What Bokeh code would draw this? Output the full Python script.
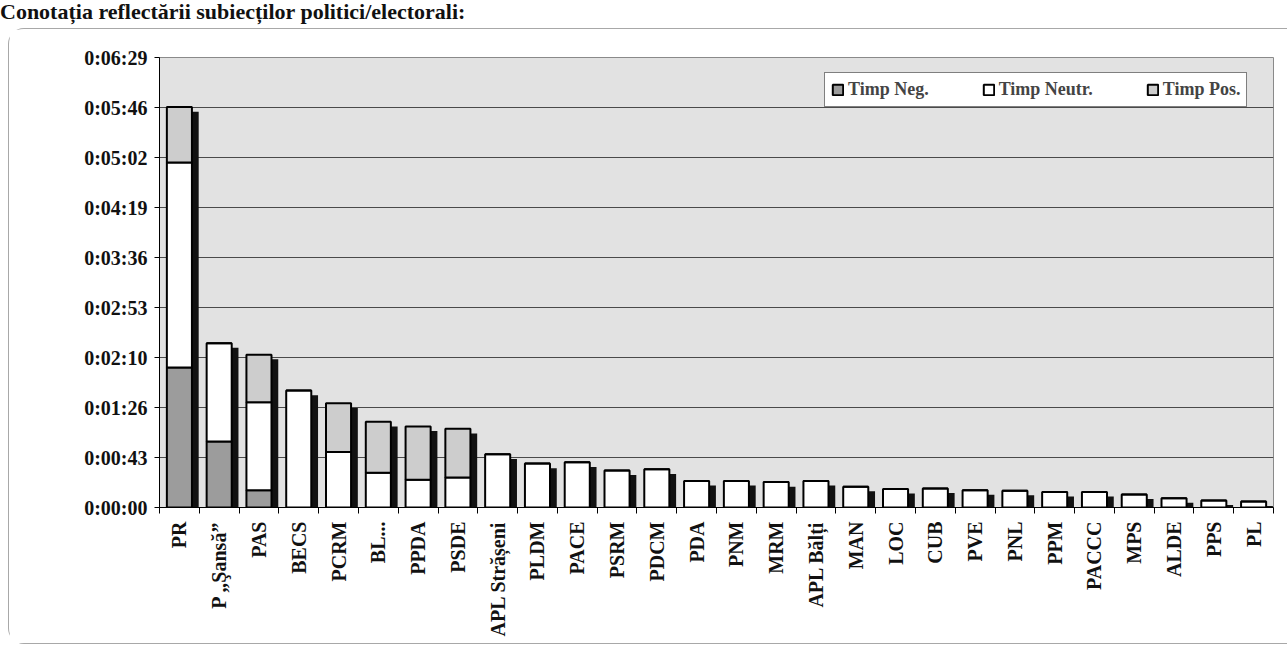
import math
from bokeh.plotting import figure
from bokeh.layouts import column
from bokeh.models import (Range1d, FixedTicker, Legend, LegendItem,
                          ColumnDataSource, Div, LinearAxis)
from bokeh.embed import file_html
from bokeh.resources import INLINE

title_text = "Conotația reflectării subiecților politici/electorali:"

categories = ["PR", "P „Şansă”", "PAS", "BECS", "PCRM", "BL...", "PPDA", "PSDE",
              "APL Strășeni", "PLDM", "PACE", "PSRM", "PDCM", "PDA", "PNM", "MRM",
              "APL Bălți", "MAN", "LOC", "CUB", "PVE", "PNL", "PPM", "PACCC",
              "MPS", "ALDE", "PPS", "PL"]

# seconds
timp_neg = [121, 57, 15, 0, 0, 0, 0, 0,
            0, 0, 0, 0, 0, 0, 0, 0,
            0, 0, 0, 0, 0, 0, 0, 0,
            0, 0, 0, 0]
timp_neutr = [177, 85, 76, 101, 48, 30, 24, 26,
              46, 38, 39, 32, 33, 23, 23, 22,
              23, 18, 16, 16.5, 15, 14.5, 13.5, 13.5,
              11.3, 8, 6.1, 5.2]
timp_pos = [48, 0, 41, 0, 42, 44, 46, 42,
            0, 0, 0, 0, 0, 0, 0, 0,
            0, 0, 0, 0, 0, 0, 0, 0,
            0, 0, 0, 0]

series_names = ["Timp Neg.", "Timp Neutr.", "Timp Pos."]
series_colors = ["#9c9c9c", "#ffffff", "#cdcdcd"]

y_tick_step = 43.2
y_tick_labels = ["0:00:00", "0:00:43", "0:01:26", "0:02:10", "0:02:53",
                 "0:03:36", "0:04:19", "0:05:02", "0:05:46", "0:06:29"]
y_ticks = [i * y_tick_step for i in range(len(y_tick_labels))]

n_cat = len(categories)
centers = [i + 0.5 for i in range(n_cat)]
boundaries = list(range(n_cat + 1))
totals = [a + b + c for a, b, c in zip(timp_neg, timp_neutr, timp_pos)]
shadow_dx = 0.17
shadow_drop = 4.0
shadow_top = [max(t - shadow_drop, 0) for t in totals]

source = ColumnDataSource(dict(x=centers, xs=[c + shadow_dx for c in centers],
                               cat=categories, neg=timp_neg, neutr=timp_neutr,
                               pos=timp_pos, shadow_top=shadow_top))

FONT = "Liberation Serif"

p = figure(width=1279, height=616, x_range=Range1d(0, n_cat),
           y_range=Range1d(0, y_ticks[-1]), output_backend="svg",
           toolbar_location=None, tools="", x_axis_location=None)
p.min_border_left = 150
p.min_border_right = 15
p.min_border_top = 28
p.min_border_bottom = 138
p.background_fill_color = "#e2e2e2"
p.border_fill_color = "white"
p.outline_line_color = "#8a8a8a"
p.outline_line_width = 1
p.margin = (2, 0, 0, 8)
p.styles = {"border": "1px solid #a8a8a8", "border-right": "none",
            "border-radius": "16px 0 0 16px"}

# shadows
p.vbar(x="xs", top="shadow_top", width=0.63, source=source,
       fill_color="#111111", line_color=None)

bars = p.vbar_stack(["neg", "neutr", "pos"], x="x", width=0.63, source=source,
                    fill_color=series_colors, line_color="black", line_width=2)

legend = Legend(items=[LegendItem(label=n, renderers=[r]) for n, r in zip(series_names, bars)],
                orientation="horizontal", location=(665, 400))
legend.glyph_width = 13
legend.glyph_height = 13
legend.label_standoff = 4
legend.spacing = 53
legend.padding = 6
legend.label_text_font = FONT
legend.label_text_font_style = "bold"
legend.label_text_font_size = "18px"
legend.border_line_color = "black"
legend.border_line_width = 1
legend.background_fill_color = "white"
legend.background_fill_alpha = 1
legend.margin = 0
p.add_layout(legend, "center")

# x axis: labels at category centres, small ticks at category boundaries
cat_axis = LinearAxis(ticker=FixedTicker(ticks=centers, minor_ticks=boundaries))
cat_axis.major_label_overrides = {c: name for c, name in zip(centers, categories)}
cat_axis.major_label_orientation = math.pi / 2
cat_axis.major_label_text_font = FONT
cat_axis.major_label_text_font_style = "bold"
cat_axis.major_label_text_font_size = "20px"
cat_axis.major_label_text_color = "#111111"
cat_axis.major_tick_line_color = None
cat_axis.minor_tick_line_color = "black"
cat_axis.minor_tick_in = 0
cat_axis.minor_tick_out = 6
cat_axis.axis_line_color = "black"
cat_axis.major_label_standoff = 8
p.add_layout(cat_axis, "below")

p.yaxis.ticker = FixedTicker(ticks=y_ticks)
p.yaxis.major_label_overrides = {t: l for t, l in zip(y_ticks, y_tick_labels)}
p.yaxis.major_label_text_font = FONT
p.yaxis.major_label_text_font_style = "bold"
p.yaxis.major_label_text_font_size = "20px"
p.yaxis.major_label_text_color = "#111111"
p.yaxis.major_tick_in = 0
p.yaxis.major_tick_out = 5
p.yaxis.minor_tick_line_color = None
p.yaxis.axis_line_color = "black"
p.yaxis.major_label_standoff = 7

p.xgrid.grid_line_color = None
p.ygrid.grid_line_color = "#4a4a4a"
p.ygrid.grid_line_width = 1

title = Div(text=title_text, width=1200, height=26,
            styles={"font-family": FONT, "font-weight": "bold", "font-size": "22px",
                    "line-height": "24px", "color": "#111111", "margin": "0",
                    "padding": "0", "white-space": "nowrap"})

layout = column(title, p, spacing=0)

open("out.html", "w").write(file_html(layout, INLINE))
